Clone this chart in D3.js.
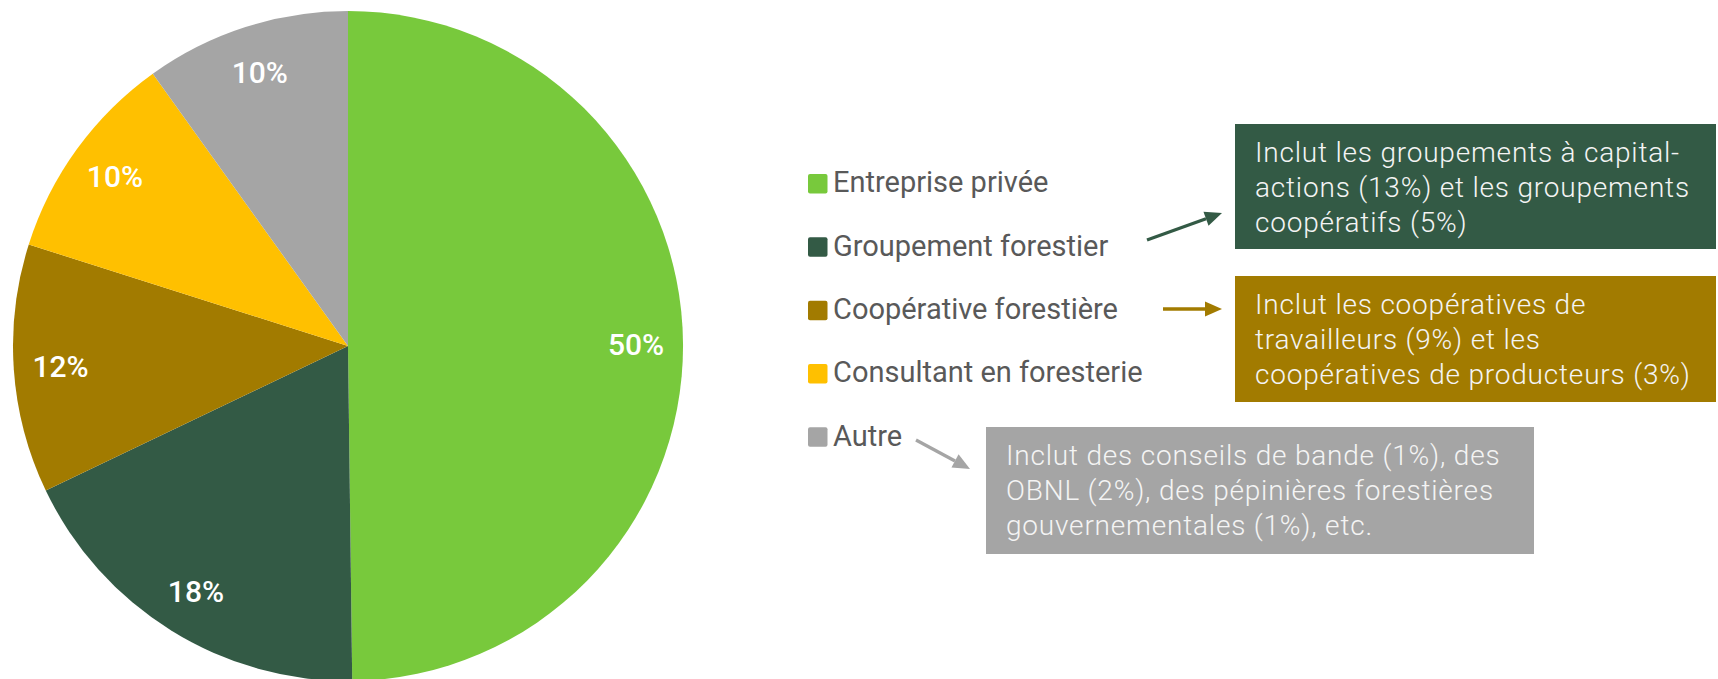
<!DOCTYPE html>
<html>
<head>
<meta charset="utf-8">
<script src="https://cdn.jsdelivr.net/npm/d3@7"></script>
<style>
  html, body { margin: 0; padding: 0; background: #fff; }
  svg { display: block; font-family: Roboto, "Noto Sans", sans-serif; }
</style>
</head>
<body>
<script>
// categories and their shares (%), clockwise from 12 o'clock
var categories = ['Entreprise privée', 'Groupement forestier', 'Coopérative forestière',
                  'Consultant en foresterie', 'Autre'];
var shares = [49.8, 18.1, 12.0, 10.2, 9.9];
var colors = ['#78c93c', '#335a45', '#a27b00', '#ffc000', '#a5a5a5'];

// notes attached to some categories
var noteCategories = ['Groupement forestier', 'Coopérative forestière', 'Autre'];
var noteLines = [
  ['Inclut les groupements à capital-', 'actions (13%) et les groupements', 'coopératifs (5%)'],
  ['Inclut les coopératives de', 'travailleurs (9%) et les', 'coopératives de producteurs (3%)'],
  ['Inclut des conseils de bande (1%), des', 'OBNL (2%), des pépinières forestières', 'gouvernementales (1%), etc.']
];

var width = 1718;
var height = 679;

var svg = d3.select('body').append('svg')
  .attr('width', width)
  .attr('height', height);

// ---- pie ----
var radius = 335;
var pieG = svg.append('g')
  .attr('transform', 'translate(348,346)');

var pie = d3.pie().sort(null).value(function(d) { return d; });
var arc = d3.arc().innerRadius(0).outerRadius(radius);
var labelArc = d3.arc().innerRadius(radius * 0.86).outerRadius(radius * 0.86);

var color = d3.scaleOrdinal().domain(categories).range(colors);
var arcs = pie(shares);

pieG.selectAll('.slice')
  .data(arcs)
  .enter().append('path')
  .attr('class', 'slice')
  .attr('d', arc)
  .attr('fill', function(d, i) { return color(categories[i]); });

pieG.selectAll('.pct')
  .data(arcs)
  .enter().append('text')
  .attr('class', 'pct')
  .attr('transform', function(d) { return 'translate(' + labelArc.centroid(d) + ')'; })
  .attr('text-anchor', 'middle')
  .attr('dy', '0.36em')
  .attr('fill', '#fff')
  .attr('font-size', 30)
  .attr('font-weight', 500)
  .text(function(d) { return Math.round(d.data) + '%'; });

// ---- legend ----
var y = d3.scalePoint()
  .domain(categories)
  .range([183.7, 437]);

var legend = svg.append('g').attr('transform', 'translate(808,0)');
var rows = legend.selectAll('.row')
  .data(categories)
  .enter().append('g')
  .attr('class', 'row')
  .attr('transform', function(d) { return 'translate(0,' + y(d) + ')'; });

rows.append('rect')
  .attr('x', 0)
  .attr('y', -9.7)
  .attr('width', 19.5)
  .attr('height', 19.5)
  .attr('rx', 2)
  .attr('fill', function(d) { return color(d); });

rows.append('text')
  .attr('x', 25)
  .attr('y', 8.5)
  .attr('fill', '#595959')
  .attr('font-size', 29)
  .text(function(d) { return d; });

// ---- note boxes with arrows ----
var boxes = [
  { x: 1235, y: 124, w: 481, h: 125, arrow: [1147, 240, 1222, 213] },
  { x: 1235, y: 276, w: 481, h: 126, arrow: [1163, 309, 1222, 309] },
  { x: 986, y: 427, w: 548, h: 127, arrow: [916, 440, 970, 469] }
];

noteCategories.forEach(function(cat, i) {
  var b = boxes[i];
  var g = svg.append('g');
  g.append('rect')
    .attr('x', b.x).attr('y', b.y)
    .attr('width', b.w).attr('height', b.h)
    .attr('fill', color(cat));

  g.selectAll('text')
    .data(noteLines[i])
    .enter().append('text')
    .attr('x', b.x + 20)
    .attr('y', function(d, j) { return b.y + 38 + j * 35; })
    .attr('fill', '#f4f4f4')
    .attr('font-size', 28)
    .attr('font-weight', 300)
    .attr('letter-spacing', 0.8)
    .text(function(d) { return d; });

  // arrow: shaft + triangular head
  var a = b.arrow;
  var ang = Math.atan2(a[3] - a[1], a[2] - a[0]);
  var headLen = 17, headHalf = 7.5;
  var bx = a[2] - headLen * Math.cos(ang), by = a[3] - headLen * Math.sin(ang);
  g.append('line')
    .attr('x1', a[0]).attr('y1', a[1])
    .attr('x2', bx).attr('y2', by)
    .attr('stroke', color(cat))
    .attr('stroke-width', 3.3);
  var px = -Math.sin(ang) * headHalf, py = Math.cos(ang) * headHalf;
  g.append('path')
    .attr('d', 'M' + a[2] + ',' + a[3] +
               'L' + (bx + px) + ',' + (by + py) +
               'L' + (bx - px) + ',' + (by - py) + 'Z')
    .attr('fill', color(cat));
});
</script>
</body>
</html>
